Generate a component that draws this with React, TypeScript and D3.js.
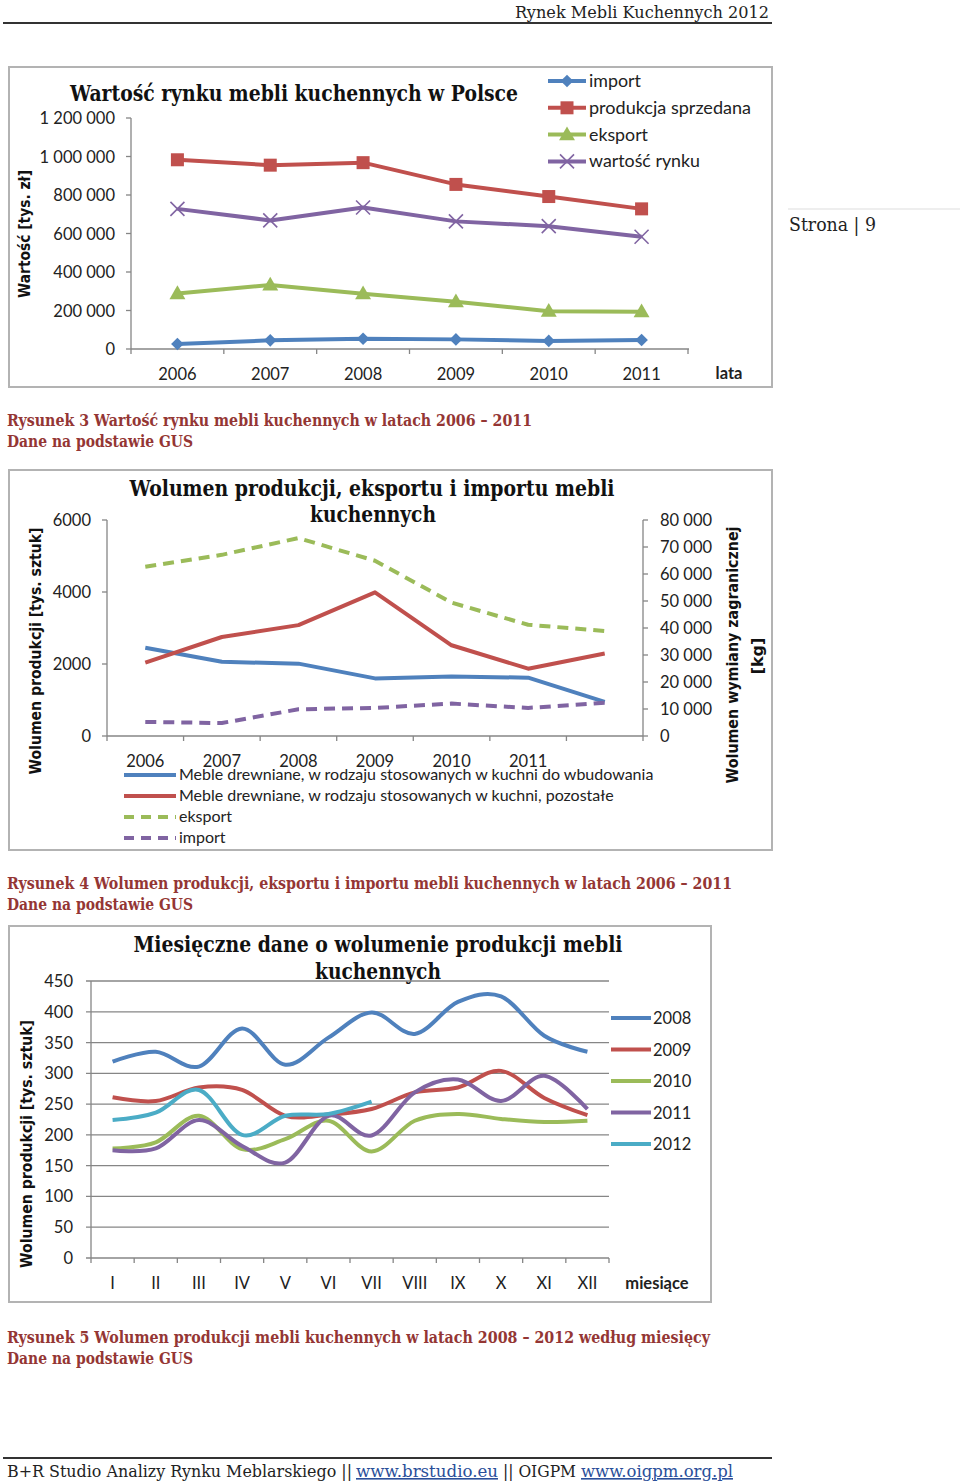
import * as d3 from "d3"
import * as React from "react"

// page texts
const headerText = "Rynek Mebli Kuchennych 2012"
const pageLabel = "Strona | 9"

// chart 1: value of the kitchen furniture market
const years1 = ["2006", "2007", "2008", "2009", "2010", "2011"]
const importVal = [26000, 45000, 53000, 50000, 42000, 47000]
const produkcjaVal = [983000, 955000, 968000, 855000, 792000, 728000]
const eksportVal = [288000, 333000, 287000, 246000, 196000, 194000]
const wartoscVal = [728000, 668000, 735000, 663000, 638000, 583000]
const ticks1 = [0, 200000, 400000, 600000, 800000, 1000000, 1200000]

// chart 2: volume
const years2 = ["2006", "2007", "2008", "2009", "2010", "2011", ""]
const wbudowane = [2450, 2060, 2010, 1600, 1655, 1620, 950]
const pozostale = [2040, 2750, 3080, 3990, 2520, 1870, 2290]
const eksportKg = [62700, 67100, 73300, 64900, 49400, 41200, 38900]
const importKg = [5200, 4800, 9900, 10400, 12000, 10400, 12300]
const ticks2L = [0, 2000, 4000, 6000]
const ticks2R = [0, 10000, 20000, 30000, 40000, 50000, 60000, 70000, 80000]
const legend2 = [
  "Meble drewniane, w rodzaju stosowanych w kuchni do wbudowania",
  "Meble drewniane, w rodzaju stosowanych w kuchni, pozostałe",
  "eksport",
  "import",
]

// chart 3: monthly
const months = ["I", "II", "III", "IV", "V", "VI", "VII", "VIII", "IX", "X", "XI", "XII"]
const m2008 = [319, 335, 311, 373, 314, 358, 399, 364, 416, 425, 361, 335]
const m2009 = [261, 255, 277, 273, 231, 233, 242, 269, 277, 304, 260, 232]
const m2010 = [178, 188, 231, 177, 193, 223, 173, 223, 234, 226, 221, 223]
const m2011 = [175, 178, 224, 182, 155, 231, 199, 269, 290, 255, 296, 242]
const m2012 = [224, 236, 273, 200, 231, 234, 254]
const ticks3 = [0, 50, 100, 150, 200, 250, 300, 350, 400, 450]
const seriesYears3 = ["2008", "2009", "2010", "2011", "2012"]

const BLUE = "#4F81BD"
const RED = "#C0504D"
const GREEN = "#9BBB59"
const PURPLE = "#8064A2"
const CYAN = "#4BACC6"
const CAPTION = "#943634"
const AXIS = "#868686"
const FRAME = "#b3b3b3"
const SANS = "Lato, 'Open Sans', sans-serif"
const SERIF = "'DejaVu Serif', 'Liberation Serif', serif"

const locale = d3.formatLocale({ thousands: " ", grouping: [3], decimal: ",", currency: ["", ""] })
const fmtSpace = locale.format(",d")

function Marker({ kind, x, y }: { kind: string; x: number; y: number }) {
  if (kind === "diamond") {
    return <path d={d3.symbol(d3.symbolSquare, 80)()} transform={`translate(${x},${y}) rotate(45)`} fill={BLUE} />
  }
  if (kind === "square") {
    return <rect x={x - 6.5} y={y - 6.5} width={13} height={13} fill={RED} />
  }
  if (kind === "triangle") {
    return <path d={d3.symbol(d3.symbolTriangle, 110)()} transform={`translate(${x},${y + 1})`} fill={GREEN} />
  }
  return (
    <g stroke={PURPLE} strokeWidth={1.6}>
      <line x1={x - 7} y1={y - 7} x2={x + 7} y2={y + 7} />
      <line x1={x - 7} y1={y + 7} x2={x + 7} y2={y - 7} />
    </g>
  )
}

function Chart1() {
  const x = d3.scaleBand().domain(years1).range([131, 688])
  const y = d3.scaleLinear().domain([0, 1200000]).range([349, 118])
  const cx = (d: string) => x(d)! + x.bandwidth() / 2
  const series = [
    { name: "import", values: importVal, color: BLUE, marker: "diamond", w: 52 },
    { name: "produkcja sprzedana", values: produkcjaVal, color: RED, marker: "square", w: 162 },
    { name: "eksport", values: eksportVal, color: GREEN, marker: "triangle", w: 59 },
    { name: "wartość rynku", values: wartoscVal, color: PURPLE, marker: "x", w: 111 },
  ]
  const line = d3.line<number>().x((_, i) => cx(years1[i])).y(d => y(d))
  const bounds = [...years1.map(d => x(d)!), 688]
  return (
    <g>
      <rect x={9} y={67} width={763} height={320} fill="#fff" stroke={FRAME} strokeWidth={2} />
      <text x={294} y={101} textAnchor="middle" fontFamily={SERIF} fontWeight="bold" fontSize={22}
        textLength={448} lengthAdjust="spacingAndGlyphs" fill="#111">Wartość rynku mebli kuchennych w Polsce</text>
      <text transform="translate(30,234) rotate(-90)" textAnchor="middle" fontFamily="'DejaVu Sans', sans-serif"
        fontWeight="bold" fontSize={15} textLength={128} lengthAdjust="spacingAndGlyphs" fill="#111">Wartość [tys. zł]</text>
      <line x1={131} x2={131} y1={118} y2={349} stroke={AXIS} strokeWidth={1.3} />
      <line x1={131} x2={689} y1={349} y2={349} stroke={AXIS} strokeWidth={1.3} />
      {ticks1.map(t => (
        <g key={t}>
          <line x1={126} x2={131} y1={y(t)} y2={y(t)} stroke={AXIS} strokeWidth={1.3} />
          <text x={115} y={y(t) + 6} textAnchor="end" fontFamily={SANS} fontSize={16.5} fill="#222">{fmtSpace(t)}</text>
        </g>
      ))}
      {bounds.map(b => <line key={b} x1={b} x2={b} y1={349} y2={354} stroke={AXIS} strokeWidth={1.3} />)}
      {years1.map(d => (
        <text key={d} x={cx(d)} y={380} textAnchor="middle" fontFamily={SANS} fontSize={16.5} fill="#222">{d}</text>
      ))}
      <text x={729} y={379} textAnchor="middle" fontFamily={SANS} fontWeight="bold" fontSize={16.5} fill="#222">lata</text>
      {series.map(s => (
        <g key={s.name}>
          <path d={line(s.values)!} fill="none" stroke={s.color} strokeWidth={4} strokeLinejoin="round" />
          {s.values.map((v, i) => <Marker key={i} kind={s.marker} x={cx(years1[i])} y={y(v)} />)}
        </g>
      ))}
      {series.map((s, i) => {
        const ly = 81 + i * 26.8
        return (
          <g key={s.name}>
            <line x1={548} x2={586} y1={ly} y2={ly} stroke={s.color} strokeWidth={4} />
            <Marker kind={s.marker} x={567} y={ly} />
            <text x={589} y={ly + 6} fontFamily={SANS} fontSize={17.5} textLength={s.w}
              lengthAdjust="spacingAndGlyphs" fill="#222">{s.name}</text>
          </g>
        )
      })}
    </g>
  )
}

function Chart2() {
  const idx = years2.map((_, i) => i)
  const x = d3.scaleBand<number>().domain(idx).range([107, 643])
  const cx = (i: number) => x(i)! + x.bandwidth() / 2
  const yL = d3.scaleLinear().domain([0, 6000]).range([736, 520])
  const yR = d3.scaleLinear().domain([0, 80000]).range([736, 520])
  const lineL = d3.line<number>().x((_, i) => cx(i)).y(d => yL(d))
  const lineR = d3.line<number>().x((_, i) => cx(i)).y(d => yR(d))
  const series = [
    { path: lineL(wbudowane), color: BLUE, dash: undefined },
    { path: lineL(pozostale), color: RED, dash: undefined },
    { path: lineR(eksportKg), color: GREEN, dash: "11 7" },
    { path: lineR(importKg), color: PURPLE, dash: "11 7" },
  ]
  const bounds = [...idx.map(i => x(i)!), 643]
  return (
    <g>
      <rect x={9} y={470} width={763} height={380} fill="#fff" stroke={FRAME} strokeWidth={2} />
      <text x={372} y={496} textAnchor="middle" fontFamily={SERIF} fontWeight="bold" fontSize={22}
        textLength={485} lengthAdjust="spacingAndGlyphs" fill="#111">Wolumen produkcji, eksportu i importu mebli</text>
      <text x={373} y={522} textAnchor="middle" fontFamily={SERIF} fontWeight="bold" fontSize={22}
        textLength={126} lengthAdjust="spacingAndGlyphs" fill="#111">kuchennych</text>
      <text transform="translate(41,651) rotate(-90)" textAnchor="middle" fontFamily="'DejaVu Sans', sans-serif"
        fontWeight="bold" fontSize={16} textLength={247} lengthAdjust="spacingAndGlyphs" fill="#111">Wolumen produkcji [tys. sztuk]</text>
      <text transform="translate(738,655) rotate(-90)" textAnchor="middle" fontFamily="'DejaVu Sans', sans-serif"
        fontWeight="bold" fontSize={16} textLength={257} lengthAdjust="spacingAndGlyphs" fill="#111">Wolumen wymiany zagranicznej</text>
      <text transform="translate(763,656) rotate(-90)" textAnchor="middle" fontFamily="'DejaVu Sans', sans-serif"
        fontWeight="bold" fontSize={16} fill="#111">[kg]</text>
      <line x1={107} x2={107} y1={520} y2={736} stroke={AXIS} strokeWidth={1.3} />
      <line x1={643} x2={643} y1={520} y2={736} stroke={AXIS} strokeWidth={1.3} />
      <line x1={107} x2={643} y1={736} y2={736} stroke={AXIS} strokeWidth={1.3} />
      {ticks2L.map(t => (
        <g key={t}>
          <line x1={102} x2={107} y1={yL(t)} y2={yL(t)} stroke={AXIS} strokeWidth={1.3} />
          <text x={91} y={yL(t) + 6} textAnchor="end" fontFamily={SANS} fontSize={16.5} fill="#222">{t}</text>
        </g>
      ))}
      {ticks2R.map(t => (
        <g key={t}>
          <line x1={643} x2={648} y1={yR(t)} y2={yR(t)} stroke={AXIS} strokeWidth={1.3} />
          <text x={660} y={yR(t) + 6} fontFamily={SANS} fontSize={16.5} fill="#222">{fmtSpace(t)}</text>
        </g>
      ))}
      {bounds.map(b => <line key={b} x1={b} x2={b} y1={736} y2={741} stroke={AXIS} strokeWidth={1.3} />)}
      {idx.map(i => (
        <text key={i} x={cx(i)} y={767} textAnchor="middle" fontFamily={SANS} fontSize={16.5} fill="#222">{years2[i]}</text>
      ))}
      {series.map((s, i) => (
        <path key={i} d={s.path!} fill="none" stroke={s.color} strokeWidth={4} strokeDasharray={s.dash} strokeLinejoin="round" />
      ))}
      {series.map((s, i) => {
        const ly = 775 + i * 21
        return (
          <g key={"l" + i}>
            <line x1={124} x2={176} y1={ly} y2={ly} stroke={s.color} strokeWidth={4} strokeDasharray={s.dash ? "10 7" : undefined} />
            <text x={179} y={ly + 5} fontFamily={SANS} fontSize={16} fill="#222">{legend2[i]}</text>
          </g>
        )
      })}
    </g>
  )
}

function Chart3() {
  const x = d3.scaleBand().domain(months).range([91, 609])
  const cx = (m: string) => x(m)! + x.bandwidth() / 2
  const y = d3.scaleLinear().domain([0, 450]).range([1258, 981])
  const line = d3.line<number>().x((_, i) => cx(months[i])).y(d => y(d)).curve(d3.curveCardinal.tension(0))
  const series = [m2008, m2009, m2010, m2011, m2012]
  const colors = [BLUE, RED, GREEN, PURPLE, CYAN]
  const bounds = [...months.map(m => x(m)!), 609]
  return (
    <g>
      <rect x={9} y={926} width={702} height={376} fill="#fff" stroke={FRAME} strokeWidth={2} />
      <text x={378} y={952} textAnchor="middle" fontFamily={SERIF} fontWeight="bold" fontSize={22}
        textLength={489} lengthAdjust="spacingAndGlyphs" fill="#111">Miesięczne dane o wolumenie produkcji mebli</text>
      <text x={378} y={979} textAnchor="middle" fontFamily={SERIF} fontWeight="bold" fontSize={22}
        textLength={126} lengthAdjust="spacingAndGlyphs" fill="#111">kuchennych</text>
      <text transform="translate(32,1144) rotate(-90)" textAnchor="middle" fontFamily="'DejaVu Sans', sans-serif"
        fontWeight="bold" fontSize={16} textLength={248} lengthAdjust="spacingAndGlyphs" fill="#111">Wolumen produkcji [tys. sztuk]</text>
      {ticks3.map(t => (
        <g key={t}>
          <line x1={86} x2={609} y1={y(t)} y2={y(t)} stroke={AXIS} strokeWidth={1.3} />
          <text x={73} y={y(t) + 6} textAnchor="end" fontFamily={SANS} fontSize={16.5} fill="#222">{t}</text>
        </g>
      ))}
      <line x1={91} x2={91} y1={981} y2={1258} stroke={AXIS} strokeWidth={1.3} />
      {bounds.map(b => <line key={b} x1={b} x2={b} y1={1258} y2={1263} stroke={AXIS} strokeWidth={1.3} />)}
      {months.map(m => (
        <text key={m} x={cx(m)} y={1289} textAnchor="middle" fontFamily={SANS} fontSize={16.5} fill="#222">{m}</text>
      ))}
      <text x={657} y={1289} textAnchor="middle" fontFamily={SANS} fontWeight="bold" fontSize={16.5} fill="#222">miesiące</text>
      {series.map((s, i) => (
        <path key={i} d={line(s)!} fill="none" stroke={colors[i]} strokeWidth={4} strokeLinejoin="round" />
      ))}
      {seriesYears3.map((yr, i) => {
        const ly = 1018 + i * 31.5
        return (
          <g key={yr}>
            <line x1={611} x2={651} y1={ly} y2={ly} stroke={colors[i]} strokeWidth={4} />
            <text x={653} y={ly + 6} fontFamily={SANS} fontSize={16.5} fill="#222">{yr}</text>
          </g>
        )
      })}
    </g>
  )
}

function Caption({ y, title, width }: { y: number; title: string; width: number }) {
  return (
    <g fontFamily={SERIF} fontWeight="bold" fontSize={16} fill={CAPTION}>
      <text x={7} y={y} textLength={width} lengthAdjust="spacingAndGlyphs">{title}</text>
      <text x={7} y={y + 21} textLength={186} lengthAdjust="spacingAndGlyphs">Dane na podstawie GUS</text>
    </g>
  )
}

export default function App() {
  return (
    <svg width={960} height={1482} style={{ position: "absolute", left: 0, top: 0, background: "#fff" }}>
      <rect width={960} height={1482} fill="#fff" />
      <text x={769} y={18} textAnchor="end" fontFamily={SERIF} fontSize={17} textLength={254}
        lengthAdjust="spacingAndGlyphs" fill="#222">{headerText}</text>
      <line x1={3} x2={772} y1={23} y2={23} stroke="#333" strokeWidth={2} />
      <line x1={788} x2={960} y1={209} y2={209} stroke="#ddd" strokeWidth={1} />
      <text x={789} y={231} fontFamily={SERIF} fontSize={18} textLength={87} lengthAdjust="spacingAndGlyphs" fill="#222">{pageLabel}</text>
      <Chart1 />
      <Caption y={426} width={525} title="Rysunek 3 Wartość rynku mebli kuchennych w latach 2006 – 2011" />
      <Chart2 />
      <Caption y={889} width={725} title="Rysunek 4 Wolumen produkcji, eksportu i importu mebli kuchennych w latach 2006 – 2011" />
      <Chart3 />
      <Caption y={1343} width={703} title="Rysunek 5 Wolumen produkcji mebli kuchennych w latach 2008 – 2012 według miesięcy" />
      <line x1={3} x2={772} y1={1458} y2={1458} stroke="#333" strokeWidth={2} />
      <g fontFamily={SERIF} fontSize={16}>
        <text x={7} y={1477} textLength={345} lengthAdjust="spacingAndGlyphs" fill="#222">B+R Studio Analizy Rynku Meblarskiego ||</text>
        <text x={356} y={1477} textLength={142} lengthAdjust="spacingAndGlyphs" fill="#2a4f9a" textDecoration="underline">www.brstudio.eu</text>
        <text x={503} y={1477} textLength={73} lengthAdjust="spacingAndGlyphs" fill="#222">|| OIGPM</text>
        <text x={581} y={1477} textLength={152} lengthAdjust="spacingAndGlyphs" fill="#2a4f9a" textDecoration="underline">www.oigpm.org.pl</text>
      </g>
    </svg>
  )
}
